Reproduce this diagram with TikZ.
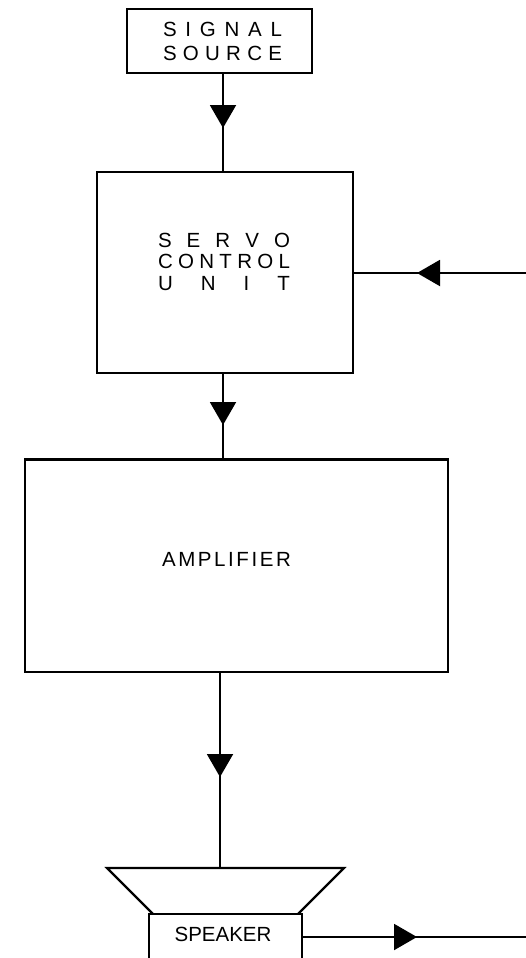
\documentclass[tikz,border=0pt]{standalone}
\usepackage{fontspec}
\setmainfont{Liberation Sans}
\usetikzlibrary{arrows.meta}
\newcommand{\spread}[2]{\makebox[#1][s]{#2}}
\begin{document}
\begin{tikzpicture}[x=1pt,y=-1pt,
  box/.style={draw,line width=2.4pt,rectangle,inner sep=0pt,outer sep=0pt},
  conn/.style={line width=2pt},
  tipped/.style={line width=2pt,-{Triangle[length=23pt,width=26pt]}},
  lbl/.style={font=\fontsize{20.5}{24}\selectfont,anchor=base,inner sep=0pt,outer sep=0pt}]
\useasboundingbox (0,0) rectangle (526,958);
% boxes
\node[box,minimum width=185pt,minimum height=64pt] (signal) at (219.5,41) {};
\node[box,minimum width=256pt,minimum height=201pt] (servo) at (225,272.5) {};
\node[box,minimum width=423pt,minimum height=212.5pt] (amp) at (236.5,565.75) {};
\node[box,minimum width=153pt,minimum height=46pt] (spk) at (225.5,937) {};
% speaker cone
\coordinate (trTL) at (107,868);
\coordinate (trTR) at (344,868);
\coordinate (trBL) at (153,914);
\coordinate (trBR) at (298,914);
\draw[line width=2.2pt,line join=miter] (trBL) -- (trTL) -- (trTR) -- (trBR);
% labels
\node[lbl] (sigA) at (222.5,37) {\spread{119pt}{S\hfill I\hfill G\hfill N\hfill A\hfill L}};
\node[lbl] (sigB) at (222.5,61) {\spread{119pt}{S\hfill O\hfill U\hfill R\hfill C\hfill E}};
\node[lbl] (srvA) at (224,247.3) {\spread{132pt}{S\hfill E\hfill R\hfill V\hfill O}};
\node[lbl] (srvB) at (224,268.3) {\spread{132pt}{C\hfill O\hfill N\hfill T\hfill R\hfill O\hfill L}};
\node[lbl] (srvC) at (224,290) {\spread{132pt}{U\hfill N\hfill I\hfill T}};
\node[lbl] (ampL) at (226.5,566) {\spread{129pt}{A\hfill M\hfill P\hfill L\hfill I\hfill F\hfill I\hfill E\hfill R}};
\node[lbl] (spkL) at (223,941) {SPEAKER};
% connector coordinates
\coordinate (t1) at (223,128);
\coordinate (t2) at (223,425);
\coordinate (t3) at (220,777);
\coordinate (t4) at (417,273);
\coordinate (t5) at (417,937);
\coordinate (inR) at (526,273);
\coordinate (outR) at (526,937);
\coordinate (trTop) at (220,868);
% connectors
\draw[conn] (signal.south -| t1) -- (servo.north -| t1);
\draw[tipped] (signal.south -| t1) -- (t1);
\draw[conn] (servo.south -| t2) -- (amp.north -| t2);
\draw[tipped] (servo.south -| t2) -- (t2);
\draw[conn] (amp.south -| t3) -- (trTop);
\draw[tipped] (amp.south -| t3) -- (t3);
\draw[conn] (inR) -- (servo.east |- inR);
\draw[tipped] (inR) -- (t4);
\draw[conn] (spk.east) -- (outR);
\draw[tipped] (spk.east) -- (t5);
\end{tikzpicture}
\end{document}
